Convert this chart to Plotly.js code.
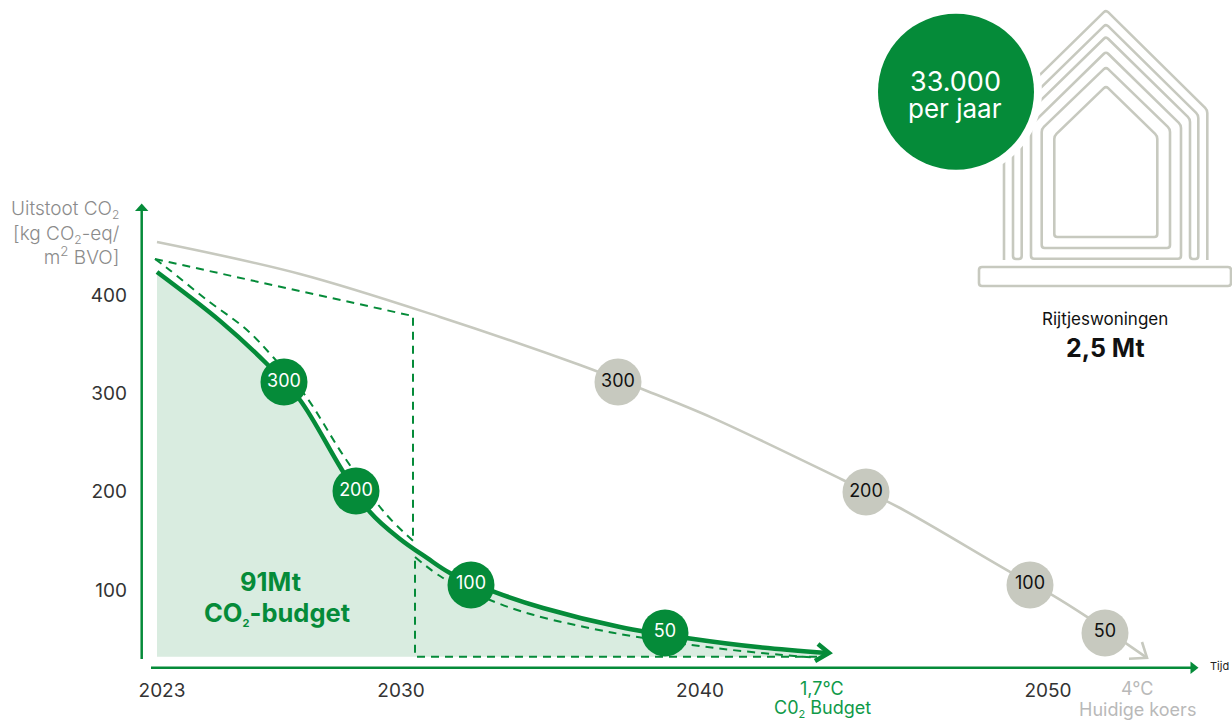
<!DOCTYPE html>
<html>
<head>
<meta charset="utf-8">
<script src="https://cdn.plot.ly/plotly-3.0.1.min.js"></script>
<style>html,body{margin:0;padding:0;background:#fff;overflow:hidden}#chart{width:1232px;height:720px}</style>
</head>
<body>
<div id="chart"></div>
<script>
// Schematic (non-linear) time axis positions, emission values in kg CO2-eq/m2 BVO
var yearTickPos = [162, 401, 700, 1048];
var yearLabels = ['2023', '2030', '2040', '2050'];
var valueTicks = [100, 200, 300, 400];

var budgetX = [157,220,267,300,342,370,400,427,450,495,543,620,690,760,827];
var budgetY = [423.6,373.9,330,293.4,222.2,179.5,152,132.7,117.4,98,81.8,62.5,50.8,41.8,36];
var budgetArrowX = [818,829,815];
var budgetArrowY = [45.2,36,27.9];

var currentX = [157,300,440,580,642,713,843,900,1010,1052,1087,1147];
var currentY = [454.1,421.6,377.9,329,304.6,275,212,183.5,118.6,95.2,72.8,31.1];
var currentArrowX = [1142,1147,1129];
var currentArrowY = [47.2,31.1,30.1];

var dashTopX = [155,413,413];
var dashTopY = [436.8,378.8,150.2];
var dashUpperCurveX = [413,385,345,305,273,247,207,167,155];
var dashUpperCurveY = [150.2,178.4,234.4,298.5,337.1,364.6,395.1,427.7,436.8];
var dashLowerCurveX = [415,443,490,533,613,690,730,780,817];
var dashLowerCurveY = [133.7,112.3,89.9,74.9,56.6,44.4,39.3,34.2,31.2];
var dashBottomX = [817,415,415];
var dashBottomY = [32.2,32.2,133.7];

var fillBaseX = [157,827];
var fillBaseY = [32.2,32.2];
var markerLabels = ['300','200','100','50'];
var budgetMarkerX = [284,356,471,665];
var budgetMarkerY = [311.7,200.8,105.2,56.4];
var currentMarkerX = [618,866,1030,1105];
var currentMarkerY = [311.7,199.8,105.2,56.4];

var GREEN = '#058b39', GREY = '#c7c9bf', FILL = '#d9ece0';
var FONT = 'Inter, "Open Sans", sans-serif';
var W = 1232, H = 720;

function P(x, y) { return (x / W).toFixed(5) + ',' + (1 - y / H).toFixed(5); }
function roundPath(pts, r, closed) {
  var n = pts.length, d = '';
  function pt(a, b, dist) {
    var dx = b[0]-a[0], dy = b[1]-a[1], l = Math.sqrt(dx*dx+dy*dy);
    return [a[0]+dx/l*dist, a[1]+dy/l*dist];
  }
  for (var i = 0; i < n; i++) {
    var c = pts[i];
    if (!closed && (i === 0 || i === n-1)) {
      d += (i === 0 ? 'M' : 'L') + P(c[0], c[1]);
      continue;
    }
    var prev = pts[(i-1+n)%n], next = pts[(i+1)%n];
    var a = pt(c, prev, r), b = pt(c, next, r);
    d += (i === 0 ? 'M' : 'L') + P(a[0], a[1]) + 'Q' + P(c[0], c[1]) + ' ' + P(b[0], b[1]);
  }
  return d + (closed ? 'Z' : '');
}
function house(pts, closed) {
  return {type:'path', xref:'paper', yref:'paper', path:roundPath(pts, 3, closed), line:{color:GREY, width:2.6}};
}
function circle(cx, cy, r, color) {
  return {type:'circle', xref:'paper', yref:'paper', x0:(cx-r)/W, x1:(cx+r)/W, y0:1-(cy+r)/H, y1:1-(cy-r)/H,
    fillcolor:color, line:{width:0}};
}

var shapes = [
  {type:'line', xref:'paper', yref:'paper', x0:151/W, x1:1192/W, y0:1-667.7/H, y1:1-667.7/H, line:{color:GREEN, width:2.5}},
  {type:'path', xref:'paper', yref:'paper', path:'M'+P(1190.5,661.5)+'L'+P(1198.5,667.7)+'L'+P(1190.5,674)+'Z', fillcolor:GREEN, line:{width:0}},
  {type:'line', xref:'paper', yref:'paper', x0:141.7/W, x1:141.7/W, y0:1-659/H, y1:1-210/H, line:{color:GREEN, width:2.5}},
  {type:'path', xref:'paper', yref:'paper', path:'M'+P(135,211)+'L'+P(141.7,203.5)+'L'+P(148.4,211)+'Z', fillcolor:GREEN, line:{width:0}},
  house([[1106,86],[1157.3,136],[1157.3,237],[1054.3,237],[1054.3,136]], true),
  house([[1106,67],[1170,129],[1170,248],[1041.7,248],[1041.7,129]], true),
  house([[1106,51.7],[1181,125],[1181,258.7],[1031,258.7],[1031,125]], true),
  house([[1106,36.7],[1190,119],[1190,259],[1198.3,259],[1198.3,115],[1106,24],[1013,115],[1013,259],[1021.7,259],[1021.7,119]], true),
  house([[1004,260],[1004,110],[1106,10],[1207.3,110],[1207.3,260]], false),
  house([[979,267],[1231,267],[1231,286],[979,286]], true),
  circle(956, 91.7, 86, '#ffffff'),
  circle(956, 91.7, 78, GREEN)
];

var lineTrace = function (x, y, color, width, shape, dash) {
  return {x:x, y:y, mode:'lines', type:'scatter', hoverinfo:'skip', showlegend:false,
    line:{color:color, width:width, shape:shape||'linear', smoothing:1, dash:dash||'solid'}};
};
var DASH = '8px,6px';

var traces = [
  {x:fillBaseX, y:fillBaseY, mode:'lines', type:'scatter', line:{width:0}, hoverinfo:'skip', showlegend:false},
  {x:budgetX, y:budgetY, mode:'lines', type:'scatter', fill:'tonexty', fillcolor:FILL,
   line:{width:0, shape:'spline', smoothing:1}, hoverinfo:'skip', showlegend:false},
  lineTrace(currentX, currentY, GREY, 2.6, 'spline'),
  lineTrace(currentArrowX, currentArrowY, GREY, 2.6),
  lineTrace(dashTopX, dashTopY, GREEN, 2, 'linear', DASH),
  lineTrace(dashUpperCurveX, dashUpperCurveY, GREEN, 2, 'spline', DASH),
  lineTrace(dashLowerCurveX, dashLowerCurveY, GREEN, 2, 'spline', DASH),
  lineTrace(dashBottomX, dashBottomY, GREEN, 2, 'linear', DASH),
  lineTrace(budgetX, budgetY, GREEN, 4.5, 'spline'),
  lineTrace(budgetArrowX, budgetArrowY, GREEN, 4.5),
  {x:budgetMarkerX, y:budgetMarkerY, text:markerLabels, mode:'markers+text', type:'scatter', textposition:'middle center',
   marker:{size:47, color:GREEN, line:{width:0}}, textfont:{family:FONT, size:18, color:'#ffffff'},
   hoverinfo:'skip', showlegend:false, cliponaxis:false},
  {x:currentMarkerX, y:currentMarkerY, text:markerLabels, mode:'markers+text', type:'scatter', textposition:'middle center',
   marker:{size:47, color:GREY, line:{width:0}}, textfont:{family:FONT, size:18, color:'#111111'},
   hoverinfo:'skip', showlegend:false, cliponaxis:false}
];

function note(x, y, text, size, color, extra) {
  var a = {xref:'paper', yref:'paper', x:x/W, y:1-y/H, text:text, showarrow:false, xanchor:'center', yanchor:'middle',
    font:{family:FONT, size:size, color:color}};
  if (extra) { for (var k in extra) { a[k] = extra[k]; } }
  return a;
}
var TINY = '<sub><span style="font-size:11px">2</span></sub>';
var TINYL = '<sub><span style="font-size:12px">2</span></sub>';

var annotations = [
  note(122, 233, 'Uitstoot CO' + TINYL + '<br>[kg CO' + TINYL + '-eq/<br>m<sup>2</sup> BVO]', 19, '#8b8b8b',
    {xanchor:'right', align:'right', font:{family:FONT, size:19, color:'#8b8b8b', weight:300}}),
  note(270, 581, '<b>91Mt</b>', 25.5, GREEN),
  note(277, 613, '<b>CO' + TINY + '-budget</b>', 25.5, GREEN),
  note(955, 81, '33.000', 27, '#ffffff'),
  note(955, 108, 'per jaar', 26, '#ffffff'),
  note(1105, 319, 'Rijtjeswoningen', 17, '#111111'),
  note(1105, 348, '<b>2,5 Mt</b>', 25, '#111111'),
  note(822, 688, '1,7°C', 18, '#0f9a49'),
  note(822, 709, 'C0' + TINY + ' Budget', 18, '#0f9a49'),
  note(1137, 688, '4°C', 18, '#b9b9b9'),
  note(1137, 709, 'Huidige koers', 18, '#b9b9b9'),
  note(1231, 666, 'Tijd', 11, '#222222', {xanchor:'right'})
];

var layout = {
  width:W, height:H, margin:{l:0, r:0, t:0, b:0}, paper_bgcolor:'#ffffff', plot_bgcolor:'rgba(0,0,0,0)',
  showlegend:false, hovermode:false,
  font:{family:FONT},
  xaxis:{range:[0,W], domain:[0,1], anchor:'free', position:1-677/H, showgrid:false, zeroline:false, showline:false,
    ticks:'', tickmode:'array', tickvals:yearTickPos, ticktext:yearLabels, tickfont:{family:FONT, size:19, color:'#333333'}, fixedrange:true},
  yaxis:{range:[(688.4-720)/0.983, 688.4/0.983], domain:[0,1], anchor:'free', position:127/W, showgrid:false, zeroline:false, showline:false,
    ticks:'', tickmode:'array', tickvals:valueTicks, ticktext:valueTicks.map(String), tickfont:{family:FONT, size:19, color:'#333333'}, fixedrange:true},
  shapes:shapes,
  annotations:annotations
};

Plotly.newPlot('chart', traces, layout, {displayModeBar:false, staticPlot:true});
</script>
</body>
</html>
